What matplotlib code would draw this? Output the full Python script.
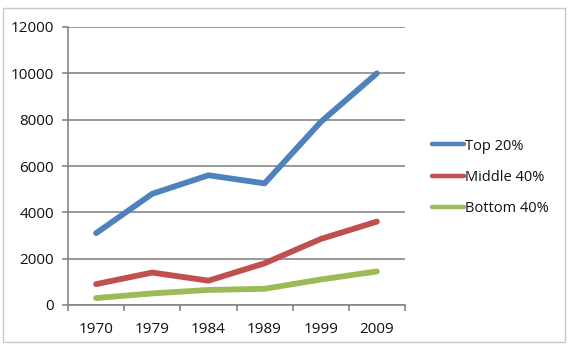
import numpy as np
import matplotlib.pyplot as plt
from matplotlib.patches import Rectangle

# dane
lata = ['1970', '1979', '1984', '1989', '1999', '2009']
top_20 = [3100, 4800, 5600, 5250, 7900, 10000]
middle_40 = [900, 1400, 1050, 1800, 2850, 3600]
bottom_40 = [300, 500, 650, 700, 1100, 1450]

serie = [
    ('Top 20%', top_20, '#4F81BD'),
    ('Middle 40%', middle_40, '#C0504D'),
    ('Bottom 40%', bottom_40, '#9BBB59'),
]

plt.rcParams['font.family'] = ['Open Sans', 'DejaVu Sans']
plt.rcParams['font.weight'] = 'medium'

fig = plt.figure(figsize=(5.69, 3.61), dpi=100)
ax = fig.add_axes([68 / 569, 1 - 305 / 361, (405 - 68) / 569, (305 - 27) / 361])

x = np.arange(len(lata))
for nazwa, wartosci, kolor in serie:
    ax.plot(x, wartosci, color=kolor, linewidth=4.2, solid_capstyle='round',
            solid_joinstyle='round', label=nazwa)

ax.set_xlim(-0.5, len(lata) - 0.5)
ax.set_ylim(0, 12000)
ax.set_yticks(np.arange(0, 12001, 2000))
ax.set_xticks(x)
ax.set_xticklabels(lata)
ax.set_xticks(np.arange(-0.5, len(lata), 1), minor=True)
ax.tick_params(axis='x', which='major', length=0, pad=12, labelsize=11, colors='#111111')
ax.tick_params(axis='x', which='minor', length=4, width=1.2, color='#868686')
ax.tick_params(axis='y', length=4, width=1.2, color='#868686', labelsize=11,
               labelcolor='#111111', pad=6)

ax.grid(axis='y', color='#868686', linewidth=1.2)
ax.set_axisbelow(True)
for s in ['top', 'right']:
    ax.spines[s].set_visible(False)
for s in ['left', 'bottom']:
    ax.spines[s].set_color('#868686')
    ax.spines[s].set_linewidth(1.2)

leg = ax.legend(loc='center left', bbox_to_anchor=(1.04, 0.46), frameon=False,
                fontsize=10.5, handlelength=2.2, handletextpad=0.1, labelspacing=1.1)
for t in leg.get_texts():
    t.set_color('#111111')
for ln in leg.get_lines():
    ln.set_linewidth(3.2)

# ramka wokół całego obrazka
fig.patches.append(Rectangle((3 / 569, 1 - 342 / 361), (565 - 3) / 569, (342 - 8) / 361,
                             transform=fig.transFigure, fill=False,
                             edgecolor='#c8c8c8', linewidth=1.0))

fig.savefig('out.png', dpi=100)
